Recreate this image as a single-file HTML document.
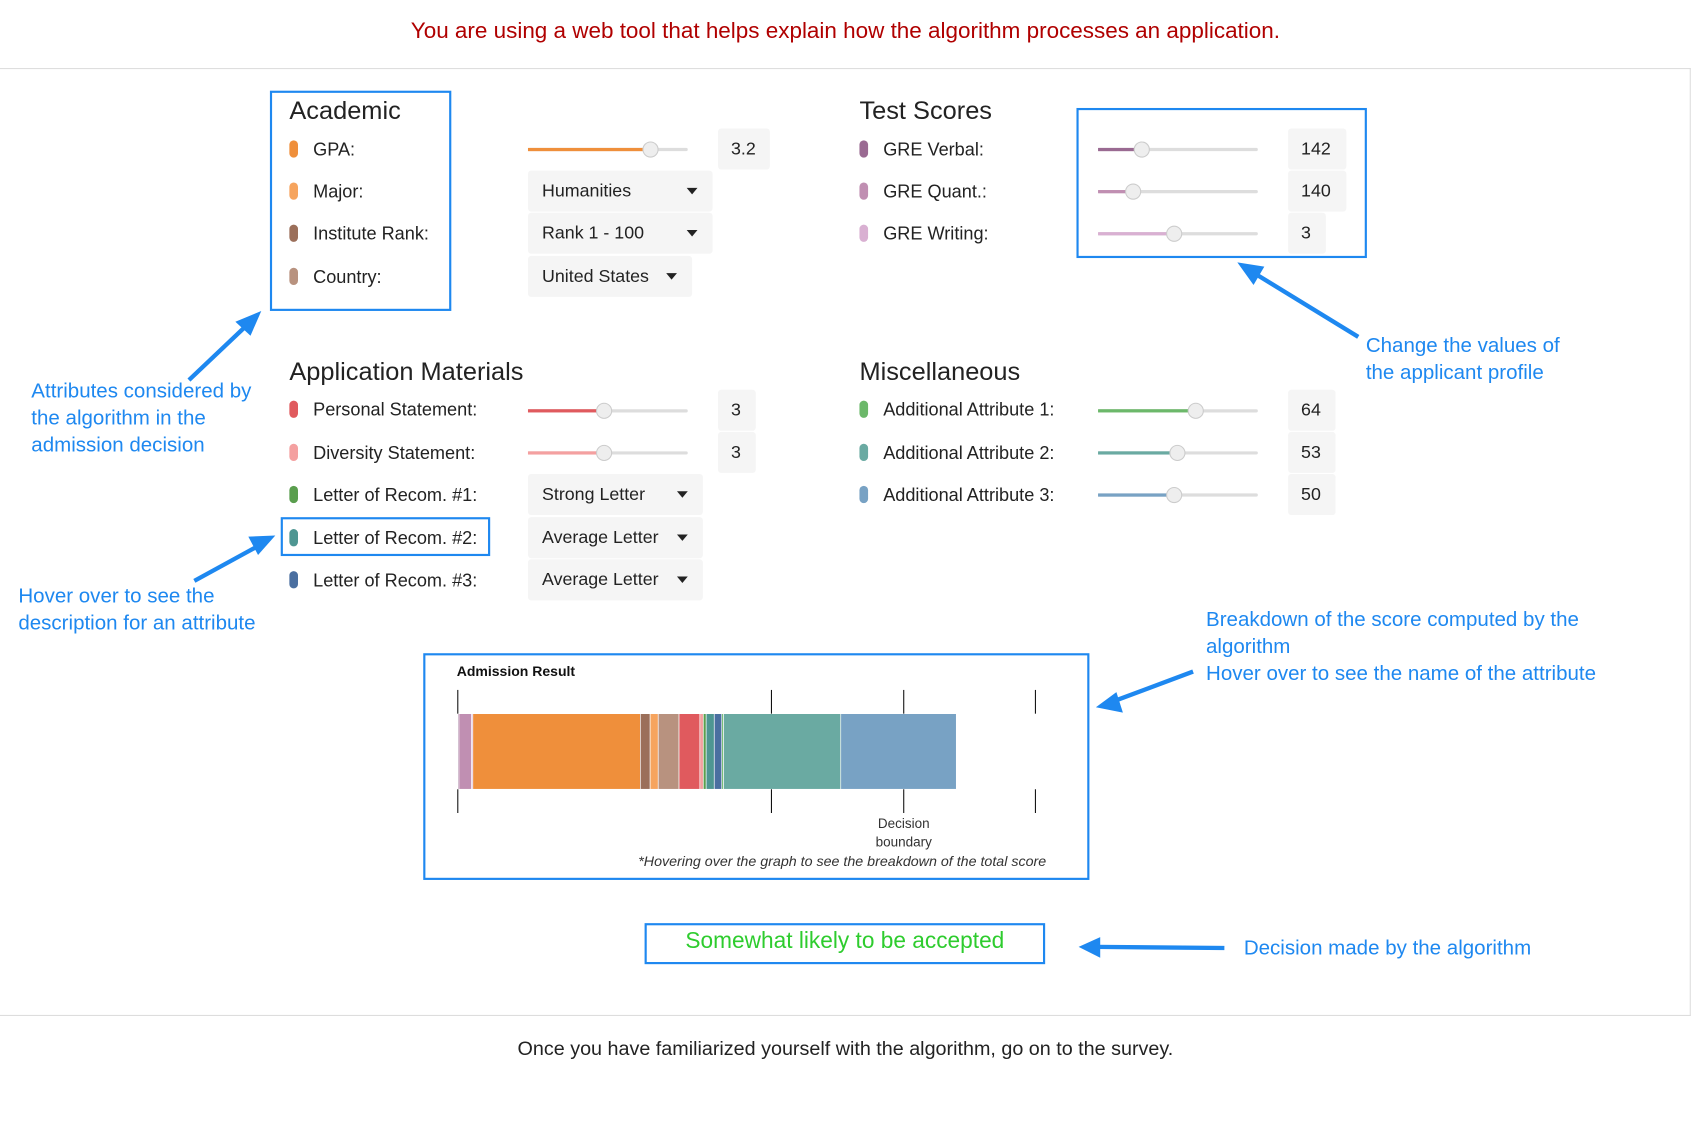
<!DOCTYPE html>
<html><head><meta charset="utf-8">
<style>
html,body{margin:0;padding:0;background:#fff;overflow:hidden;width:1693px;height:1125px}
#wrap{position:absolute;left:0;top:0;width:1568px;height:1042px;transform:scale(1.0797);transform-origin:0 0;font-family:"Liberation Sans",sans-serif}
.a{position:absolute;white-space:nowrap}
.title{font-size:23.5px;color:#222}
.lbl{font-size:16.8px;color:#222}
.dot{position:absolute;width:8px;height:16px;border-radius:4px}
.box{position:absolute;background:#f5f5f5;border-radius:3px;font-size:16.5px;color:#222}
.dd::after{content:"";position:absolute;right:14px;top:16px;border-left:5px solid transparent;border-right:5px solid transparent;border-top:6px solid #222}
.hl{position:absolute;border:2.5px solid #1e88f0;box-sizing:border-box}
.ann{position:absolute;color:#1e88f0;font-size:19px;line-height:25px;white-space:nowrap}
</style></head><body>
<div id="wrap">
<div class="a" style="left:0;width:1566px;text-align:center;top:17px;font-size:20.8px;color:#b00000">You are using a web tool that helps explain how the algorithm processes an application.</div>
<div style="position:absolute;left:-2px;top:63px;width:1567px;height:876px;border:1px solid #ddd;border-left:none"></div>
<div class="a" style="left:0;width:1566px;text-align:center;top:960px;font-size:18.3px;color:#222">Once you have familiarized yourself with the algorithm, go on to the survey.</div>
<div id="form"></div>
<svg id="chart" style="position:absolute;left:0;top:0" width="1568" height="1042"></svg>
<div class="hl" style="left:250px;top:84px;width:168px;height:204px"></div>
<div class="hl" style="left:997px;top:100px;width:269px;height:139px"></div>
<div class="hl" style="left:260px;top:479px;width:194px;height:36px"></div>
<div class="hl" style="left:392px;top:605px;width:617px;height:210px"></div>
<div class="hl" style="left:597px;top:855px;width:371px;height:38px"></div>
<div class="a" style="left:597px;width:371px;text-align:center;top:860px;font-size:21px;color:#2ecc2e">Somewhat likely to be accepted</div>
<div class="ann" style="left:29px;top:350px">Attributes considered by<br>the algorithm in the<br>admission decision</div>
<div class="ann" style="left:17px;top:540px">Hover over to see the<br>description for an attribute</div>
<div class="ann" style="left:1265px;top:308px">Change the values of<br>the applicant profile</div>
<div class="ann" style="left:1117px;top:562px">Breakdown of the score computed by the<br>algorithm<br>Hover over to see the name of the attribute</div>
<div class="ann" style="left:1152px;top:866px">Decision made by the algorithm</div>
<svg style="position:absolute;left:0;top:0" width="1568" height="1042">
<g stroke="#1e88f0" stroke-width="4" fill="#1e88f0">
<line x1="175" y1="352" x2="232" y2="298"/><polygon points="242,288 218,298 232,311" stroke="none"/>
<line x1="180" y1="538" x2="244" y2="503"/><polygon points="255,496 230,497 239,514" stroke="none"/>
<line x1="1258" y1="312" x2="1160" y2="252"/><polygon points="1146,243 1161,264 1171,247" stroke="none"/>
<line x1="1105" y1="622" x2="1030" y2="650"/><polygon points="1015,655 1040,660 1034,641" stroke="none"/>
<line x1="1134" y1="878" x2="1015" y2="877"/><polygon points="999,877 1019,868 1019,887" stroke="none"/>
</g></svg>
</div>
<script>
// ---- chart data ----
const segNames=["GRE Verbal","GRE Quant.","GRE Writing","GPA","Institute Rank","Major","Country","Personal Statement","Diversity Statement","Letter of Recom. #1","Letter of Recom. #2","Letter of Recom. #3","Additional Attribute 1","Additional Attribute 2","Additional Attribute 3"];
const segValues=[0.2,2.2,0.2,29.0,1.7,1.4,3.6,3.6,0.6,0.5,1.4,1.3,0.3,20.3,20.0];
const segColors=["#9a6a92","#c08fb2","#d9b0d2","#ef8f3b","#9b6f5a","#f6a45e","#b8927f","#e05a5e","#f4a0a0","#5a9e4e","#4e9692","#4a6fa0","#6cb86a","#6aaaa2","#78a2c4"];
const tickValues=[0,54.3,77.2,100];
const decisionValue=77.2;
const domainMax=100;
const svg=document.getElementById('chart');
const NS='http://www.w3.org/2000/svg';
const x0=424,x1=959,barTop=661,barH=70;
function xScale(v){return x0+(x1-x0)*v/domainMax;}
function mk(t,a){const e=document.createElementNS(NS,t);for(const k in a)e.setAttribute(k,a[k]);svg.appendChild(e);return e;}
let t=mk('text',{x:423,y:626,'font-size':13,'font-weight':'bold',fill:'#111','font-family':'Liberation Sans'});t.textContent='Admission Result';


let cum=0;
segValues.forEach((v,i)=>{
  const r=mk('rect',{x:xScale(cum),y:barTop,width:Math.max(0,xScale(cum+v)-xScale(cum)),height:barH,fill:segColors[i],stroke:'#fff','stroke-width':0.6});
  
  
  cum+=v;
});
tickValues.forEach(v=>{
  const x=xScale(v);
  const l1=mk('line',{x1:x,x2:x,y1:639,y2:barTop,stroke:'#111','stroke-width':1});
  
  
  const l2=mk('line',{x1:x,x2:x,y1:barTop+barH,y2:753,stroke:'#111','stroke-width':1});
  
  
});
const dx=xScale(decisionValue);
['Decision','boundary'].forEach((s,i)=>{const e=mk('text',{x:dx,y:767+i*17,'font-size':12.5,'text-anchor':'middle',fill:'#333','font-family':'Liberation Sans'});e.textContent=s;
  
  });
t=mk('text',{x:969,y:802,'font-size':13.2,'font-style':'italic','text-anchor':'end',fill:'#333','font-family':'Liberation Sans'});t.textContent='*Hovering over the graph to see the breakdown of the total score';



// ---- form ----
const form=document.getElementById('form');
function add(html){form.insertAdjacentHTML('beforeend',html);}
function title(x,y,s){add(`<div class="a title" style="left:${x}px;top:${y-12}px">${s}</div>`);}
function row(x,y,c,s){add(`<div class="dot" style="left:${x}px;top:${y-8}px;background:${c}"></div><div class="a lbl" style="left:${x+22}px;top:${y-9}px">${s}</div>`);}
function slider(x,y,fill,c,w,val,bw){add(`<div style="position:absolute;left:${x}px;top:${y-1}px;width:148px;height:3px;background:#ddd;border-radius:2px"><div style="width:${fill-x}px;height:3px;background:${c}"></div><div style="position:absolute;left:${fill-x-7}px;top:-6px;width:13px;height:13px;border-radius:50%;background:#eee;border:1px solid #ccc"></div></div><div class="box" style="left:${w}px;top:${y-19}px;width:${bw}px;height:38px;line-height:38px;padding-left:12px;box-sizing:border-box">${val}</div>`);}
function dd(x,y,w,s){add(`<div class="box dd" style="left:${x}px;top:${y-19}px;width:${w}px;height:38px;line-height:38px;padding-left:13px;box-sizing:border-box">${s}</div>`);}
title(268,101,'Academic');
row(268,138,'#ef8f3b','GPA:');slider(489,138,602,'#ef8f3b',665,'3.2',48);
row(268,177,'#f6a45e','Major:');dd(489,177,171,'Humanities');
row(268,216,'#9b6f5a','Institute Rank:');dd(489,216,171,'Rank 1 - 100');
row(268,256,'#b8927f','Country:');dd(489,256,152,'United States');
title(796,101,'Test Scores');
row(796,138,'#9a6a92','GRE Verbal:');slider(1017,138,1057,'#9a6a92',1193,'142',54);
row(796,177,'#c08fb2','GRE Quant.:');slider(1017,177,1049,'#c08fb2',1193,'140',54);
row(796,216,'#d9b0d2','GRE Writing:');slider(1017,216,1087,'#d9b0d2',1193,'3',35);
title(268,343,'Application Materials');
row(268,379,'#e05a5e','Personal Statement:');slider(489,380,559,'#e05a5e',665,'3',35);
row(268,419,'#f4a0a0','Diversity Statement:');slider(489,419,559,'#f4a0a0',665,'3',35);
row(268,458,'#5a9e4e','Letter of Recom. #1:');dd(489,458,162,'Strong Letter');
row(268,498,'#4e9692','Letter of Recom. #2:');dd(489,498,162,'Average Letter');
row(268,537,'#4a6fa0','Letter of Recom. #3:');dd(489,537,162,'Average Letter');
title(796,343,'Miscellaneous');
row(796,379,'#6cb86a','Additional Attribute 1:');slider(1017,380,1107,'#6cb86a',1193,'64',44);
row(796,419,'#6aaaa2','Additional Attribute 2:');slider(1017,419,1090,'#6aaaa2',1193,'53',44);
row(796,458,'#78a2c4','Additional Attribute 3:');slider(1017,458,1087,'#78a2c4',1193,'50',44);
</script>
</body></html>
